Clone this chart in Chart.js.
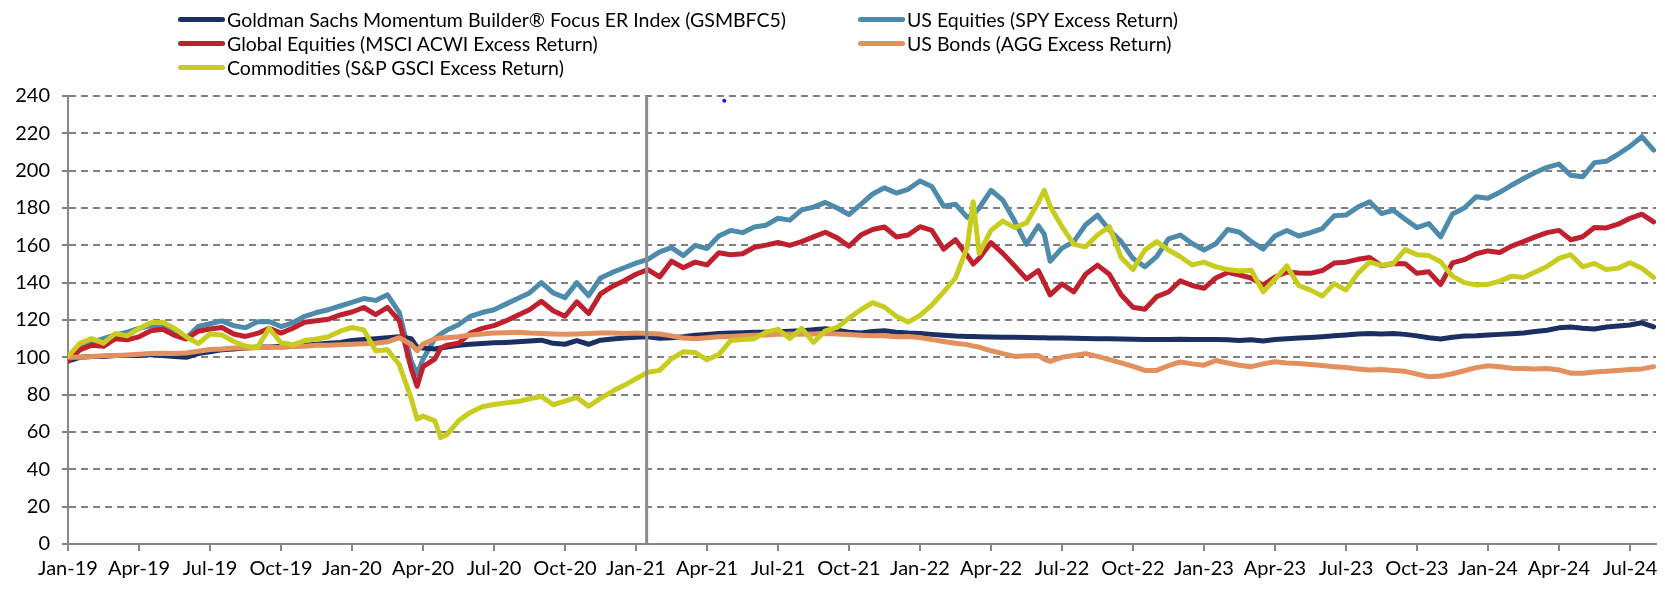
<!DOCTYPE html>
<html>
<head>
<meta charset="utf-8">
<script src="https://cdn.jsdelivr.net/npm/chart.js@4"></script>
<style>
  html, body { margin: 0; padding: 0; background: #fff; }
  #wrap { position: relative; width: 1665px; height: 592px; }
  .leg { position: absolute; display: flex; align-items: center; height: 24px;
         font-family: Lato, sans-serif; font-size: 19.5px; color: #000; white-space: nowrap; }
  .sw { width: 47px; height: 5px; border-radius: 3px; margin-right: 2px; }
</style>
</head>
<body>
<div id="wrap">
  <canvas id="myChart"></canvas>
  <div class="leg" style="left:178px;top:7px"><span class="sw" style="background:#1c2f63"></span>Goldman Sachs Momentum Builder® Focus ER Index (GSMBFC5)</div>
  <div class="leg" style="left:858px;top:7px"><span class="sw" style="background:#4d8aab"></span>US Equities (SPY Excess Return)</div>
  <div class="leg" style="left:178px;top:31px"><span class="sw" style="background:#c0202e"></span>Global Equities (MSCI ACWI Excess Return)</div>
  <div class="leg" style="left:858px;top:31px"><span class="sw" style="background:#e3905e"></span>US Bonds (AGG Excess Return)</div>
  <div class="leg" style="left:178px;top:55px"><span class="sw" style="background:#c8cc1e"></span>Commodities (S&amp;P GSCI Excess Return)</div>
</div>
<script>
// months since Jan-2019
const months = [
  0,0.5,1,1.5,2,2.5,3,3.5,4,4.5,
  5,5.5,6,6.5,7,7.5,8,8.5,9,9.5,
  10,10.5,11,11.5,12,12.5,13,13.5,14,14.5,
  14.75,15,15.5,15.75,16,16.5,17,17.5,18,18.5,19,19.5,
  20,20.5,21,21.5,22,22.5,23,23.5,24,24.5,
  25,25.5,26,26.5,27,27.5,28,28.5,29,29.5,
  30,30.5,31,31.5,32,32.5,33,33.5,34,34.5,
  35,35.5,36,36.5,37,37.5,
  38,38.25,38.5,39,39.5,
  40,40.5,41,41.25,41.5,42,42.5,43,43.5,44,44.5,
  45,45.5,46,46.5,47,47.5,48,48.5,49,49.5,
  50,50.5,51,51.5,52,52.5,53,53.5,54,54.5,
  55,55.5,56,56.5,57,57.5,58,58.5,59,59.5,
  60,60.5,61,61.5,62,62.5,63,63.5,64,64.5,
  65,65.5,66,66.5,67
];

const tickLabels = ['Jan-19','Apr-19','Jul-19','Oct-19','Jan-20','Apr-20','Jul-20','Oct-20',
  'Jan-21','Apr-21','Jul-21','Oct-21','Jan-22','Apr-22','Jul-22','Oct-22',
  'Jan-23','Apr-23','Jul-23','Oct-23','Jan-24','Apr-24','Jul-24'];

const gsmbfc5 = [
  98,100,100.5,100.5,101,101,101,101.5,101,100.5,
  100,102,103,104,104.5,105,105.5,105.5,106,106,
  106.5,107,107.5,108,109,109.5,110,110.5,111,110,
  105.5,105,104.5,105,105.5,106.5,107,107.4,107.8,108,108.3,108.7,
  109.2,107.5,107,108.9,107,109.2,109.8,110.3,110.8,111,
  110.2,110.5,111,111.8,112.3,112.8,113,113.2,113.4,113.5,
  113.7,114,114.3,114.8,115.3,114.5,113.5,113,113.8,114.2,
  113.5,113,112.8,112.3,111.8,111.4,
  111.2,111.1,111,110.9,110.8,
  110.7,110.6,110.5,110.45,110.4,110.3,110.2,110.1,110,110,109.8,
  109.7,109.6,109.6,109.6,109.7,109.6,109.6,109.6,109.4,109,
  109.4,108.8,109.5,110,110.3,110.6,111,111.5,112,112.5,
  112.8,112.5,112.8,112.3,111.5,110.5,109.8,110.8,111.4,111.6,
  112,112.3,112.6,113,113.8,114.5,115.8,116.2,115.6,115.2,
  116.2,116.8,117.3,118.5,116.3
];

const spy = [
  99,105,108,110,112,113.5,115.5,117,117,113,
  110.3,116.5,118,119.5,117,115.8,119,119.2,116.5,118.5,
  122,124,125.5,127.5,129.5,131.5,130.5,133.5,124,98,
  91,99,110,112.5,114.5,117.5,122,124,125.5,128.5,131.5,134.5,
  140,134.5,132,140,133,142.5,145.5,148,150.5,152.5,
  156.5,158.8,154.5,160,158.3,165,168,166.8,169.8,170.8,
  174.5,173.5,179,180.5,183,180,176.5,182,187.5,190.8,
  188,190,194.5,191.5,181,182,
  175,176.5,180,189.5,184.2,
  173,160.5,170.5,166,151.5,158.5,162,171,176.2,168.2,162,
  153,148.5,153.9,163.5,165.5,161,157.5,160.8,168.5,167,
  162,158,165,168,165,166.8,169,175.8,176.2,180.5,
  183.3,177,178.8,174,169.5,171.7,164.5,176.8,180,186,
  185.2,188.4,192.2,195.8,199,201.8,203.5,197.5,196.7,204.3,
  205,208.8,213,218.2,211
];

const acwi = [
  98,104,106.5,105.9,110,109.4,111,114.2,115,111.8,
  109.8,114,115.2,116,112.5,111.2,112.8,115.6,113,115.6,
  118.8,119.6,120.4,122.7,124.3,126.7,122.9,126.8,119.5,94,
  84.5,95,99,105,106.5,107.5,113,115.5,117,119.5,122.5,125.5,
  130,125,122,129.7,123.5,134,138,141,144.5,147,
  143.1,151.5,148,151,149.5,156,155,155.5,159,160.1,
  161.5,160,162,164.5,167,164,159.5,165.5,168.5,169.8,
  164.5,165.5,170,168,158,163,
  154.5,150,153,161.5,155.7,
  149,142,146.5,140,133.5,139.3,135.1,144.5,149.4,144.5,133.5,
  126.8,125.8,132.5,135,141,138.5,137,142.5,145.5,144.1,
  142.5,138.7,143,145.7,145.2,145,146.5,150.5,151,152.5,
  153.5,149,150.3,150.2,145,145.8,139,150.6,152.3,155.5,
  157,156.2,159.6,162,164.5,166.8,168,163,164.6,169.5,
  169.3,171.3,174.5,176.7,172.6
];

const agg = [
  100,100,100.5,100.8,101,101.3,101.6,102,102.2,102,
  102.3,103.3,104.2,104.5,105,105,105.2,105.5,105.3,105.8,
  106,106.5,106.5,106.8,107,107.3,107.5,108.3,110.5,107,
  103.5,107,110,110.3,110.5,111,112,112.5,113,113.2,113.5,113,
  112.8,112.5,112.3,112.5,112.8,113,113,112.8,113,112.8,
  112.5,111.5,110.3,110,110.5,111,111.2,111.5,111.8,112,
  112.3,112.5,112.3,112.5,112.8,112.5,112.2,111.8,111.5,111.5,
  111,111.2,110.6,109.5,108.5,107.5,
  106.8,106,105.5,103.5,102,
  100.5,100.8,101,99,97.8,100,101,102,100.5,98.8,97,
  95.2,93,93,95.5,97.5,96.5,95.8,98.3,97,95.8,
  95,96.5,97.6,97,96.7,96.2,95.6,95,94.5,93.8,
  93.2,93.5,93,92.5,91,89.6,90,91.2,92.8,94.5,
  95.5,95,94.2,94,93.8,94,93.2,91.5,91.5,92.2,
  92.5,93,93.5,93.8,95
];

const gsci = [
  100.5,107.5,110,107.6,112.8,111.5,115.4,118.5,118.8,115.5,
  111,107.3,112.5,112,108.5,106,105.2,115.6,107.8,106.7,
  109,109.8,111,114,116,114.7,103.5,104,96,78,
  67,68.5,66,57,58.5,66,70.5,73.5,74.7,75.6,76.3,77.8,
  79,74.6,76.5,78.5,73.8,78,81.8,85,88.5,92,
  93,99.2,103,102.6,98.7,101.5,109,109.5,110,113.5,
  115,110.1,115.5,108,114.2,116,121,125.5,129.3,126.9,
  122,118.9,122.5,128,135,142.5,
  159.2,183.3,155.7,168,173,
  169.5,172,183,189.5,181,170,160.5,159.2,165.5,170,153.5,
  147,157.5,162,157.5,153.9,149.5,151,148.5,147,146.2,
  146.7,135.1,141.8,149,138.5,136,132.8,139.5,136,145,
  151,149.3,150.3,157.7,155,154.5,151.2,143.5,140,138.8,
  139.1,140.8,143.5,142.8,145.7,148.7,153,155,148.5,150.3,
  147,147.8,150.7,147.7,142.8
];

const dividerMonth = 24.45;
const strayDot = [{ x: 27.73, y: 237.5 }];

function toPoints(vals) {
  return vals.map((v, i) => ({ x: months[i], y: v }));
}

function line(label, vals, color, order) {
  return {
    label: label,
    data: toPoints(vals),
    borderColor: color,
    backgroundColor: color,
    borderWidth: 5,
    pointRadius: 0,
    tension: 0,
    borderJoinStyle: 'round',
    borderCapStyle: 'round',
    order: order
  };
}

const dividerPlugin = {
  id: 'divider',
  afterDatasetsDraw(chart) {
    const { ctx, chartArea, scales } = chart;
    const px = scales.x.getPixelForValue(dividerMonth);
    ctx.save();
    ctx.strokeStyle = '#8c8c8c';
    ctx.lineWidth = 3;
    ctx.beginPath();
    ctx.moveTo(px, chartArea.top);
    ctx.lineTo(px, chartArea.bottom);
    ctx.stroke();
    ctx.restore();
  }
};

Chart.defaults.font.family = 'Lato, sans-serif';
Chart.defaults.font.size = 20;
Chart.defaults.color = '#000';

const ctx = document.getElementById('myChart').getContext('2d');

const myChart = new Chart(ctx, {
  type: 'line',
  data: {
    datasets: [
      line('Goldman Sachs Momentum Builder® Focus ER Index (GSMBFC5)', gsmbfc5, '#1c2f63', 4),
      line('US Equities (SPY Excess Return)', spy, '#4d8aab', 5),
      line('Global Equities (MSCI ACWI Excess Return)', acwi, '#c0202e', 3),
      line('US Bonds (AGG Excess Return)', agg, '#e3905e', 2),
      line('Commodities (S&P GSCI Excess Return)', gsci, '#c8cc1e', 1),
      {
        label: 'dot',
        data: strayDot,
        showLine: false,
        pointRadius: 2,
        pointBorderWidth: 0,
        pointBackgroundColor: '#1a1aee',
        order: 0
      }
    ]
  },
  options: {
    animation: false,
    responsive: true,
    maintainAspectRatio: false,
    layout: { padding: { top: 96, right: 9, left: 0, bottom: 0 } },
    scales: {
      x: {
        type: 'linear',
        min: 0,
        max: 67.1,
        afterBuildTicks: (scale) => {
          scale.ticks = tickLabels.map((_, i) => ({ value: i * 3 }));
        },
        afterFit: (scale) => { scale.height = 48; },
        ticks: {
          autoSkip: false,
          maxRotation: 0,
          padding: 6,
          callback: (v) => tickLabels[Math.round(v / 3)]
        },
        grid: {
          drawOnChartArea: false,
          drawTicks: true,
          tickLength: 7,
          color: '#888',
          lineWidth: 2
        },
        border: { color: '#888', width: 2 }
      },
      y: {
        min: 0,
        max: 240,
        afterFit: (scale) => { scale.width = 68; },
        ticks: { stepSize: 20, padding: 12 },
        grid: {
          color: '#808080',
          lineWidth: 2,
          tickLength: 6,
          tickBorderDash: [7, 5]
        },
        border: { color: '#888', width: 2, dash: [7, 5] }
      }
    },
    plugins: {
      legend: { display: false },
      tooltip: { enabled: false }
    }
  },
  plugins: [dividerPlugin]
});
</script>
</body>
</html>
